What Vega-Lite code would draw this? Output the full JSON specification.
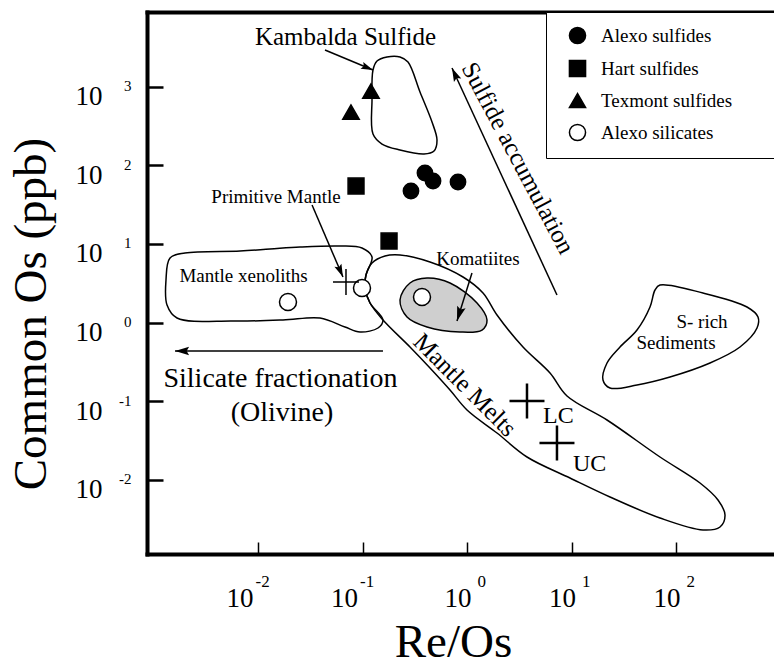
{
  "$schema": "https://vega.github.io/schema/vega-lite/v6.json",
  "width": 627,
  "height": 542,
  "autosize": "none",
  "padding": {"left": 147, "top": 12, "right": 0, "bottom": 113},
  "background": "white",
  "config": {
    "view": {"stroke": null},
    "axis": {"grid": false, "labelFlush": false, "labelOverlap": false, "labelColor": "black", "labelFont": "Liberation Serif", "titleFont": "Liberation Serif", "titleColor": "black", "titleFontWeight": "normal"},
    "legend": {"orient": "none", "legendX": 399, "legendY": 0, "padding": 14, "strokeColor": "black", "fillColor": "white", "rowPadding": 10, "symbolOffset": 8, "labelOffset": 14, "labelFont": "Liberation Serif", "labelFontSize": 19, "labelColor": "black", "symbolStrokeColor": "black", "symbolStrokeWidth": 1.5, "symbolSize": 260, "labelLimit": 500}
  },
  "datasets": {
    "polygons": [
      {"region": "Kambalda", "i": 1, "x": 0.1260, "y": 1631},
      {"region": "Kambalda", "i": 2, "x": 0.1377, "y": 2123},
      {"region": "Kambalda", "i": 3, "x": 0.1715, "y": 2388},
      {"region": "Kambalda", "i": 4, "x": 0.2285, "y": 2388},
      {"region": "Kambalda", "i": 5, "x": 0.2725, "y": 2061},
      {"region": "Kambalda", "i": 6, "x": 0.3550, "y": 857},
      {"region": "Kambalda", "i": 7, "x": 0.4626, "y": 355.8},
      {"region": "Kambalda", "i": 8, "x": 0.5164, "y": 210},
      {"region": "Kambalda", "i": 9, "x": 0.4834, "y": 152.2},
      {"region": "Kambalda", "i": 10, "x": 0.3877, "y": 139.4},
      {"region": "Kambalda", "i": 11, "x": 0.2285, "y": 156.7},
      {"region": "Kambalda", "i": 12, "x": 0.1537, "y": 186.8},
      {"region": "Kambalda", "i": 13, "x": 0.1260, "y": 250.4},
      {"region": "Kambalda", "i": 14, "x": 0.1233, "y": 677.6},
      {"region": "Mantle xenoliths", "i": 1, "x": 0.001439, "y": 6.63},
      {"region": "Mantle xenoliths", "i": 2, "x": 0.002002, "y": 7.677},
      {"region": "Mantle xenoliths", "i": 3, "x": 0.006727, "y": 8.138},
      {"region": "Mantle xenoliths", "i": 4, "x": 0.01303, "y": 8.630},
      {"region": "Mantle xenoliths", "i": 5, "x": 0.02523, "y": 9.152},
      {"region": "Mantle xenoliths", "i": 6, "x": 0.06092, "y": 9.423},
      {"region": "Mantle xenoliths", "i": 7, "x": 0.0989, "y": 8.887},
      {"region": "Mantle xenoliths", "i": 8, "x": 0.1233, "y": 6.828},
      {"region": "Mantle xenoliths", "i": 9, "x": 0.1080, "y": 4.030},
      {"region": "Mantle xenoliths", "i": 10, "x": 0.1057, "y": 2.754},
      {"region": "Mantle xenoliths", "i": 11, "x": 0.1180, "y": 1.775},
      {"region": "Mantle xenoliths", "i": 12, "x": 0.1571, "y": 1.079},
      {"region": "Mantle xenoliths", "i": 13, "x": 0.1407, "y": 0.8536},
      {"region": "Mantle xenoliths", "i": 14, "x": 0.09465, "y": 0.7594},
      {"region": "Mantle xenoliths", "i": 15, "x": 0.0680, "y": 0.879},
      {"region": "Mantle xenoliths", "i": 16, "x": 0.03921, "y": 1.144},
      {"region": "Mantle xenoliths", "i": 17, "x": 0.01735, "y": 1.079},
      {"region": "Mantle xenoliths", "i": 18, "x": 0.005765, "y": 1.048},
      {"region": "Mantle xenoliths", "i": 19, "x": 0.001679, "y": 1.144},
      {"region": "Mantle xenoliths", "i": 20, "x": 0.001347, "y": 1.674},
      {"region": "Mantle xenoliths", "i": 21, "x": 0.001317, "y": 3.482},
      {"region": "Mantle Melts", "i": 1, "x": 0.1080, "y": 4.030},
      {"region": "Mantle Melts", "i": 2, "x": 0.1233, "y": 5.728},
      {"region": "Mantle Melts", "i": 3, "x": 0.1642, "y": 7.03},
      {"region": "Mantle Melts", "i": 4, "x": 0.2285, "y": 7.239},
      {"region": "Mantle Melts", "i": 5, "x": 0.4425, "y": 5.899},
      {"region": "Mantle Melts", "i": 6, "x": 0.9157, "y": 3.802},
      {"region": "Mantle Melts", "i": 7, "x": 1.423, "y": 2.379},
      {"region": "Mantle Melts", "i": 8, "x": 1.937, "y": 1.249},
      {"region": "Mantle Melts", "i": 9, "x": 3.435, "y": 0.4894},
      {"region": "Mantle Melts", "i": 10, "x": 6.228, "y": 0.2286},
      {"region": "Mantle Melts", "i": 11, "x": 9.057, "y": 0.1165},
      {"region": "Mantle Melts", "i": 12, "x": 21.87, "y": 0.05772},
      {"region": "Mantle Melts", "i": 13, "x": 70.30, "y": 0.01953},
      {"region": "Mantle Melts", "i": 14, "x": 169.7, "y": 0.00912},
      {"region": "Mantle Melts", "i": 15, "x": 252.3, "y": 0.005543},
      {"region": "Mantle Melts", "i": 16, "x": 294.4, "y": 0.003573},
      {"region": "Mantle Melts", "i": 17, "x": 263.7, "y": 0.002515},
      {"region": "Mantle Melts", "i": 18, "x": 181.3, "y": 0.002303},
      {"region": "Mantle Melts", "i": 19, "x": 70.30, "y": 0.003272},
      {"region": "Mantle Melts", "i": 20, "x": 23.36, "y": 0.006053},
      {"region": "Mantle Melts", "i": 21, "x": 9.674, "y": 0.01056},
      {"region": "Mantle Melts", "i": 22, "x": 3.751, "y": 0.01953},
      {"region": "Mantle Melts", "i": 23, "x": 1.937, "y": 0.03945},
      {"region": "Mantle Melts", "i": 24, "x": 1.0, "y": 0.07735},
      {"region": "Mantle Melts", "i": 25, "x": 0.6877, "y": 0.1389},
      {"region": "Mantle Melts", "i": 26, "x": 0.4425, "y": 0.2647},
      {"region": "Mantle Melts", "i": 27, "x": 0.2847, "y": 0.4894},
      {"region": "Mantle Melts", "i": 28, "x": 0.1571, "y": 1.079},
      {"region": "Mantle Melts", "i": 29, "x": 0.1180, "y": 1.775},
      {"region": "Mantle Melts", "i": 30, "x": 0.1057, "y": 2.754},
      {"region": "S-rich Sediments", "i": 1, "x": 70.30, "y": 3.008},
      {"region": "S-rich Sediments", "i": 2, "x": 181.3, "y": 2.379},
      {"region": "S-rich Sediments", "i": 3, "x": 478.0, "y": 1.579},
      {"region": "S-rich Sediments", "i": 4, "x": 609.2, "y": 1.178},
      {"region": "S-rich Sediments", "i": 5, "x": 595.9, "y": 0.8536},
      {"region": "S-rich Sediments", "i": 6, "x": 409.8, "y": 0.4894},
      {"region": "S-rich Sediments", "i": 7, "x": 211.5, "y": 0.3064},
      {"region": "S-rich Sediments", "i": 8, "x": 87.6, "y": 0.2033},
      {"region": "S-rich Sediments", "i": 9, "x": 42.35, "y": 0.1609},
      {"region": "S-rich Sediments", "i": 10, "x": 23.36, "y": 0.1473},
      {"region": "S-rich Sediments", "i": 11, "x": 20.01, "y": 0.1862},
      {"region": "S-rich Sediments", "i": 12, "x": 21.87, "y": 0.3064},
      {"region": "S-rich Sediments", "i": 13, "x": 29.12, "y": 0.4894},
      {"region": "S-rich Sediments", "i": 14, "x": 42.35, "y": 0.805},
      {"region": "S-rich Sediments", "i": 15, "x": 56.39, "y": 1.579},
      {"region": "S-rich Sediments", "i": 16, "x": 62.95, "y": 2.598}
    ],
    "komatiites": [
      {"region": "Komatiites", "i": 1, "x": 0.2285, "y": 1.939},
      {"region": "Komatiites", "i": 2, "x": 0.2847, "y": 3.188},
      {"region": "Komatiites", "i": 3, "x": 0.4142, "y": 3.692},
      {"region": "Komatiites", "i": 4, "x": 0.6877, "y": 3.188},
      {"region": "Komatiites", "i": 5, "x": 1.247, "y": 1.775},
      {"region": "Komatiites", "i": 6, "x": 1.554, "y": 1.079},
      {"region": "Komatiites", "i": 7, "x": 1.392, "y": 0.805},
      {"region": "Komatiites", "i": 8, "x": 0.857, "y": 0.7594},
      {"region": "Komatiites", "i": 9, "x": 0.4142, "y": 0.879},
      {"region": "Komatiites", "i": 10, "x": 0.2666, "y": 1.178}
    ],
    "arrows": [
      {"name": "Kambalda Sulfide", "x": 0.04375, "y": 2931, "x2": 0.1259, "y2": 1633},
      {"name": "Primitive Mantle", "x": 0.0329, "y": 31.3, "x2": 0.0650, "y2": 3.80},
      {"name": "Sulfide accumulation", "x": 7.26, "y": 2.244, "x2": 0.7185, "y2": 1730},
      {"name": "Silicate fractionation", "x": 0.157, "y": 0.4355, "x2": 0.001607, "y2": 0.4355},
      {"name": "Komatiites", "x": 1.116, "y": 4.27, "x2": 0.802, "y2": 1.048}
    ],
    "samples": [
      {"series": "Alexo sulfides", "x": 0.291, "y": 47.2},
      {"series": "Alexo sulfides", "x": 0.396, "y": 80.0},
      {"series": "Alexo sulfides", "x": 0.473, "y": 63.2},
      {"series": "Alexo sulfides", "x": 0.820, "y": 61.4},
      {"series": "Hart sulfides", "x": 0.0867, "y": 54.6},
      {"series": "Hart sulfides", "x": 0.1795, "y": 10.9},
      {"series": "Texmont sulfides", "x": 0.0776, "y": 476},
      {"series": "Texmont sulfides", "x": 0.1205, "y": 881},
      {"series": "Alexo silicates", "x": 0.01936, "y": 1.828},
      {"series": "Alexo silicates", "x": 0.0989, "y": 2.754},
      {"series": "Alexo silicates", "x": 0.371, "y": 2.116}
    ],
    "references": [
      {"name": "Primitive Mantle", "x": 0.0695, "y": 3.284},
      {"name": "LC", "x": 3.75, "y": 0.1007},
      {"name": "UC", "x": 7.26, "y": 0.0294}
    ],
    "regionLabels": [
      {"text": "Primitive Mantle", "x": 0.01486, "y": 39.6},
      {"text": "Mantle xenoliths", "x": 0.007263, "y": 3.914},
      {"text": "Komatiites", "x": 1.274, "y": 6.44},
      {"text": "S- rich", "x": 177.4, "y": 1.018},
      {"text": "Sediments", "x": 100, "y": 0.5502}
    ],
    "kambaldaLabel": [
      {"text": "Kambalda Sulfide", "x": 0.0688, "y": 4285}
    ],
    "fractionationLabels": [
      {"text": "Silicate fractionation", "x": 0.01642, "y": 0.1918},
      {"text": "(Olivine)", "x": 0.01697, "y": 0.07085}
    ],
    "crustLabels": [
      {"text": "LC", "x": 5.333, "y": 0.0658},
      {"text": "UC", "x": 10.34, "y": 0.01614}
    ],
    "accumulationLabel": [
      {"text": "Sulfide accumulation", "x": 3.076, "y": 124.0}
    ],
    "meltsLabel": [
      {"text": "Mantle Melts", "x": 0.957, "y": 0.1607}
    ]
  },
  "layer": [
    {
      "data": {"name": "komatiites"},
      "mark": {"type": "line", "interpolate": "catmull-rom-closed", "fill": "#cfcfcf", "stroke": "black", "strokeWidth": 1.5},
      "encoding": {
        "x": {"field": "x", "type": "quantitative", "scale": {"type": "log", "domain": [0.0008665, 866.5], "nice": false},
              "axis": {"orient": "bottom", "values": [0.01, 0.1, 1, 10, 100], "labelExpr": "'' + round(log(datum.value) / LN10)", "ticks": false, "domain": false, "title": null, "labelFontSize": 17, "labelAlign": "left", "labelBaseline": "middle", "labelPadding": 27, "labelOffset": {"condition": {"test": "datum.value < 1", "value": -3}, "value": 10}}},
        "y": {"field": "y", "type": "quantitative", "scale": {"type": "log", "domain": [0.0011405, 8918], "nice": false},
              "axis": {"orient": "left", "values": [0.01, 0.1, 1, 10, 100, 1000], "labelExpr": "'' + round(log(datum.value) / LN10)", "ticks": false, "domain": false, "title": null, "labelFontSize": 15, "labelAlign": "right", "labelBaseline": "middle", "labelPadding": 16, "labelOffset": -1}},
        "order": {"field": "i", "type": "quantitative"}
      }
    },
    {
      "data": {"name": "polygons"},
      "mark": {"type": "line", "interpolate": "catmull-rom-closed", "stroke": "black", "strokeWidth": 1.5},
      "encoding": {
        "x": {"field": "x", "type": "quantitative", "scale": {"type": "log", "domain": [0.0008665, 866.5], "nice": false},
              "axis": {"orient": "bottom", "values": [0.01, 0.1, 1, 10, 100], "labelExpr": "'10'", "ticks": false, "domain": false, "title": null, "labelFontSize": 27, "labelAlign": "right", "labelBaseline": "middle", "labelPadding": 44, "labelOffset": {"condition": {"test": "datum.value < 1", "value": -5}, "value": 4}}},
        "y": {"field": "y", "type": "quantitative", "scale": {"type": "log", "domain": [0.0011405, 8918], "nice": false},
              "axis": {"orient": "left", "values": [0.01, 0.1, 1, 10, 100, 1000], "labelExpr": "'10'", "ticks": false, "domain": false, "title": null, "labelFontSize": 27, "labelAlign": "right", "labelBaseline": "middle", "labelPadding": 45, "labelOffset": 10}},
        "detail": {"field": "region"},
        "order": {"field": "i", "type": "quantitative"}
      }
    },
    {
      "data": {"name": "arrows"},
      "mark": {"type": "rule", "stroke": "black", "strokeWidth": 1.5},
      "encoding": {
        "x": {"field": "x", "type": "quantitative", "scale": {"type": "log", "domain": [0.0008665, 866.5], "nice": false},
              "axis": {"orient": "bottom", "values": [0.01, 0.1, 1, 10, 100], "labels": false, "ticks": true, "tickSize": -12, "tickWidth": 1.5, "tickColor": "black", "domain": true, "domainColor": "black", "domainWidth": 4, "domainCap": "square", "title": "Re/Os", "titleFontSize": 47, "titleX": 306, "titleY": 102, "titleAlign": "center", "titleBaseline": "alphabetic"}},
        "y": {"field": "y", "type": "quantitative", "scale": {"type": "log", "domain": [0.0011405, 8918], "nice": false},
              "axis": {"orient": "left", "values": [0.01, 0.1, 1, 10, 100, 1000], "labels": false, "ticks": true, "tickSize": -16, "tickWidth": 2.5, "tickColor": "black", "domain": true, "domainColor": "black", "domainWidth": 4, "domainCap": "square", "title": "Common Os (ppb)", "titleFontSize": 47, "titleX": -92, "titleY": 301.5, "titleAngle": 270, "titleAlign": "center", "titleBaseline": "bottom"}},
        "x2": {"field": "x2"},
        "y2": {"field": "y2"}
      }
    },
    {
      "data": {"name": "arrows"},
      "transform": [
        {"calculate": "atan2((log(datum.x2) - log(datum.x)) / LN10 * 104.5, (log(datum.y2) - log(datum.y)) / LN10 * 78.63) * 180 / PI", "as": "headAngle"}
      ],
      "mark": {"type": "point", "shape": "M0,0L-0.6,2L0,1.65L0.6,2Z", "filled": true, "fill": "black", "strokeWidth": 0, "opacity": 1},
      "encoding": {
        "x": {"field": "x2", "type": "quantitative", "scale": {"type": "log", "domain": [0.0008665, 866.5], "nice": false},
              "axis": {"orient": "top", "labels": false, "ticks": false, "domain": true, "domainColor": "black", "domainWidth": 4, "domainCap": "square", "title": null}},
        "y": {"field": "y2", "type": "quantitative", "scale": {"type": "log", "domain": [0.0011405, 8918], "nice": false}, "axis": null},
        "angle": {"field": "headAngle", "type": "quantitative", "scale": null},
        "size": {"field": "name", "type": "nominal", "legend": null,
                 "scale": {"domain": ["Kambalda Sulfide", "Primitive Mantle", "Sulfide accumulation", "Silicate fractionation", "Komatiites"], "range": [144, 289, 625, 729, 529]}}
      }
    },
    {
      "data": {"name": "samples"},
      "mark": {"type": "point", "filled": true, "strokeWidth": 1.5, "opacity": 1},
      "encoding": {
        "x": {"field": "x", "type": "quantitative", "scale": {"type": "log", "domain": [0.0008665, 866.5], "nice": false}, "axis": null},
        "y": {"field": "y", "type": "quantitative", "scale": {"type": "log", "domain": [0.0011405, 8918], "nice": false}, "axis": null},
        "shape": {"field": "series", "type": "nominal",
                  "scale": {"domain": ["Alexo sulfides", "Hart sulfides", "Texmont sulfides", "Alexo silicates"], "range": ["circle", "square", "triangle-up", "circle"]},
                  "legend": {"title": null, "labelExpr": "datum.label + '\u00a0\u00a0\u00a0\u00a0\u00a0\u00a0\u00a0\u200b'"}},
        "fill": {"field": "series", "type": "nominal",
                 "scale": {"domain": ["Alexo sulfides", "Hart sulfides", "Texmont sulfides", "Alexo silicates"], "range": ["black", "black", "black", "white"]},
                 "legend": {"title": null, "labelExpr": "datum.label + '\u00a0\u00a0\u00a0\u00a0\u00a0\u00a0\u00a0\u200b'"}},
        "stroke": {"field": "series", "type": "nominal",
                   "scale": {"domain": ["Alexo sulfides", "Hart sulfides", "Texmont sulfides", "Alexo silicates"], "range": ["black", "black", "black", "black"]},
                   "legend": {"title": null, "labelExpr": "datum.label + '\u00a0\u00a0\u00a0\u00a0\u00a0\u00a0\u00a0\u200b'"}},
        "size": {"field": "series", "type": "nominal", "legend": null,
                 "scale": {"domain": ["Alexo sulfides", "Hart sulfides", "Texmont sulfides", "Alexo silicates"], "range": [240, 300, 340, 210]}}
      }
    },
    {
      "data": {"name": "references"},
      "transform": [{"filter": "datum.name === 'Primitive Mantle'"}],
      "mark": {"type": "point", "shape": "M-1,0H1M0,-1V1", "filled": false, "stroke": "black", "strokeWidth": 1.5, "size": 676, "opacity": 1},
      "encoding": {
        "x": {"field": "x", "type": "quantitative", "scale": {"type": "log", "domain": [0.0008665, 866.5], "nice": false}, "axis": null},
        "y": {"field": "y", "type": "quantitative", "scale": {"type": "log", "domain": [0.0011405, 8918], "nice": false}, "axis": null}
      }
    },
    {
      "data": {"name": "references"},
      "transform": [{"filter": "datum.name !== 'Primitive Mantle'"}],
      "mark": {"type": "point", "shape": "M-1,0H1M0,-1V1", "filled": false, "stroke": "black", "strokeWidth": 2.5, "size": 1225, "opacity": 1},
      "encoding": {
        "x": {"field": "x", "type": "quantitative", "scale": {"type": "log", "domain": [0.0008665, 866.5], "nice": false}, "axis": null},
        "y": {"field": "y", "type": "quantitative", "scale": {"type": "log", "domain": [0.0011405, 8918], "nice": false}, "axis": null}
      }
    },
    {
      "data": {"name": "regionLabels"},
      "mark": {"type": "text", "font": "Liberation Serif", "fontSize": 19, "align": "center", "baseline": "middle", "color": "black"},
      "encoding": {
        "x": {"field": "x", "type": "quantitative", "scale": {"type": "log", "domain": [0.0008665, 866.5], "nice": false}, "axis": null},
        "y": {"field": "y", "type": "quantitative", "scale": {"type": "log", "domain": [0.0011405, 8918], "nice": false}, "axis": null},
        "text": {"field": "text"}
      }
    },
    {
      "data": {"name": "kambaldaLabel"},
      "mark": {"type": "text", "font": "Liberation Serif", "fontSize": 25, "align": "center", "baseline": "middle", "color": "black"},
      "encoding": {
        "x": {"field": "x", "type": "quantitative", "scale": {"type": "log", "domain": [0.0008665, 866.5], "nice": false}, "axis": null},
        "y": {"field": "y", "type": "quantitative", "scale": {"type": "log", "domain": [0.0011405, 8918], "nice": false}, "axis": null},
        "text": {"field": "text"}
      }
    },
    {
      "data": {"name": "fractionationLabels"},
      "mark": {"type": "text", "font": "Liberation Serif", "fontSize": 28, "align": "center", "baseline": "middle", "color": "black"},
      "encoding": {
        "x": {"field": "x", "type": "quantitative", "scale": {"type": "log", "domain": [0.0008665, 866.5], "nice": false}, "axis": null},
        "y": {"field": "y", "type": "quantitative", "scale": {"type": "log", "domain": [0.0011405, 8918], "nice": false}, "axis": null},
        "text": {"field": "text"}
      }
    },
    {
      "data": {"name": "crustLabels"},
      "mark": {"type": "text", "font": "Liberation Serif", "fontSize": 24, "align": "left", "baseline": "middle", "color": "black"},
      "encoding": {
        "x": {"field": "x", "type": "quantitative", "scale": {"type": "log", "domain": [0.0008665, 866.5], "nice": false}, "axis": null},
        "y": {"field": "y", "type": "quantitative", "scale": {"type": "log", "domain": [0.0011405, 8918], "nice": false}, "axis": null},
        "text": {"field": "text"}
      }
    },
    {
      "data": {"name": "accumulationLabel"},
      "mark": {"type": "text", "font": "Liberation Serif", "fontSize": 25, "align": "center", "baseline": "middle", "angle": 62, "color": "black"},
      "encoding": {
        "x": {"field": "x", "type": "quantitative", "scale": {"type": "log", "domain": [0.0008665, 866.5], "nice": false}, "axis": null},
        "y": {"field": "y", "type": "quantitative", "scale": {"type": "log", "domain": [0.0011405, 8918], "nice": false}, "axis": null},
        "text": {"field": "text"}
      }
    },
    {
      "data": {"name": "meltsLabel"},
      "mark": {"type": "text", "font": "Liberation Serif", "fontSize": 25, "align": "center", "baseline": "middle", "angle": 45, "color": "black"},
      "encoding": {
        "x": {"field": "x", "type": "quantitative", "scale": {"type": "log", "domain": [0.0008665, 866.5], "nice": false}, "axis": null},
        "y": {"field": "y", "type": "quantitative", "scale": {"type": "log", "domain": [0.0011405, 8918], "nice": false}, "axis": null},
        "text": {"field": "text"}
      }
    }
  ],
  "resolve": {"axis": {"x": "independent", "y": "independent"}}
}
